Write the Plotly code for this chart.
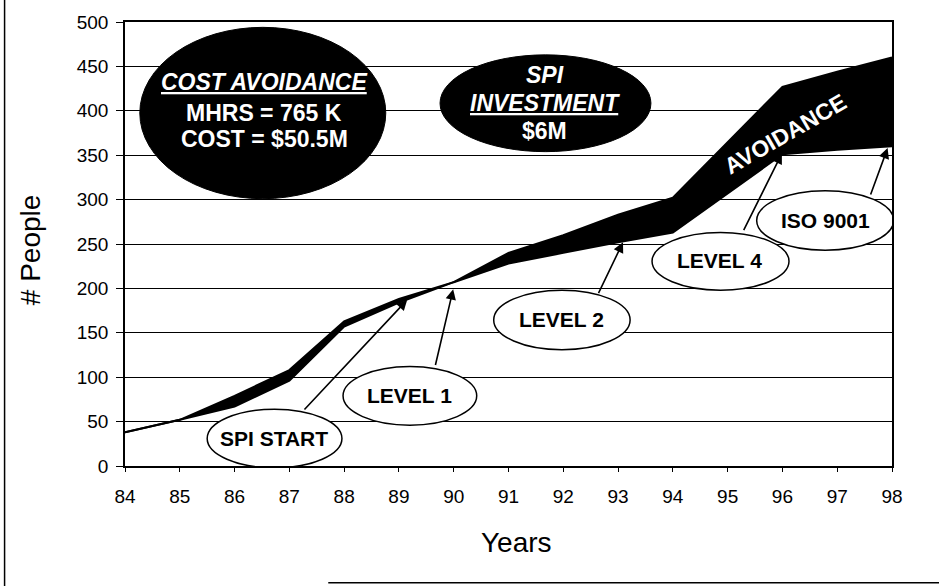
import plotly.graph_objects as go

# Years (two-digit) and head-count curves
years = [84, 85, 86, 87, 88, 89, 90, 91, 92, 93, 94, 95, 96, 97, 98]
without_spi = [38, 52, 79, 108, 163, 188, 207, 240, 260, 283, 302, 365, 427, 444, 460]
with_spi = [38, 52, 67, 96, 157, 184, 207, 228, 240, 252, 263, 307, 351, 356, 360]

y_ticks = [0, 50, 100, 150, 200, 250, 300, 350, 400, 450, 500]

# Milestone callouts: label, ellipse box, text centre, arrow tail -> head
milestones = [
    ("SPI START", (85.50, -2, 87.96, 64), (86.72, 31), (87.25, 62), (89.15, 187)),
    ("LEVEL 1", (87.98, 46, 90.42, 112), (89.20, 79), (89.66, 112), (89.99, 199)),
    ("LEVEL 2", (90.73, 131, 93.22, 198), (91.97, 165), (92.63, 193), (93.09, 252)),
    ("LEVEL 4", (93.62, 198, 96.12, 263), (94.86, 231), (95.28, 264), (95.99, 352)),
    ("ISO 9001", (95.53, 243, 98.03, 310), (96.79, 276), (97.60, 304), (97.92, 358)),
]

FONT = "Liberation Sans, Arial, sans-serif"

fig = go.Figure()

# Actual staffing (lower curve)
fig.add_trace(go.Scatter(
    x=years, y=with_spi, mode="lines",
    line=dict(color="black", width=2), showlegend=False, hoverinfo="skip",
))

# Projected staffing without SPI; the band between is the avoidance
fig.add_trace(go.Scatter(
    x=years, y=without_spi, mode="lines", fill="tonexty", fillcolor="black",
    line=dict(color="black", width=2), showlegend=False, hoverinfo="skip",
))

shapes = []
annotations = []

# Black summary ellipses
shapes.append(dict(type="circle", xref="x", yref="y", x0=84.27, x1=88.76, y0=301, y1=494,
                   fillcolor="black", line=dict(color="black", width=1), layer="above"))
shapes.append(dict(type="circle", xref="x", yref="y", x0=89.75, x1=93.60, y0=354, y1=463,
                   fillcolor="black", line=dict(color="black", width=1), layer="above"))

white_lines = [
    ("<b><i><u>COST AVOIDANCE</u></i></b>", 86.54, 433),
    ("<b>MHRS = 765 K</b>", 86.54, 398),
    ("<b>COST = $50.5M</b>", 86.54, 368),
    ("<b><i>SPI</i></b>", 91.66, 440),
    ("<b><i><u>INVESTMENT</u></i></b>", 91.66, 409),
    ("<b>$6M</b>", 91.66, 377),
]
for txt, xx, yy in white_lines:
    annotations.append(dict(x=xx, y=yy, xref="x", yref="y", text=txt, showarrow=False,
                            font=dict(family=FONT, size=23, color="white")))

annotations.append(dict(x=96.05, y=374, xref="x", yref="y", text="<b>AVOIDANCE</b>",
                        showarrow=False, textangle=-30,
                        font=dict(family=FONT, size=23, color="white")))

# Milestone ellipses with arrows
for label, (ex0, ey0, ex1, ey1), (tx, ty), (ax, ay), (hx, hy) in milestones:
    shapes.append(dict(type="circle", xref="x", yref="y", x0=ex0, x1=ex1, y0=ey0, y1=ey1,
                       fillcolor="white", line=dict(color="black", width=1.5), layer="above"))
    annotations.append(dict(x=hx, y=hy, ax=ax, ay=ay, xref="x", yref="y", axref="x", ayref="y",
                            text="", showarrow=True, arrowhead=2, arrowsize=1.3,
                            arrowwidth=1.6, arrowcolor="black"))
    annotations.append(dict(x=tx, y=ty, xref="x", yref="y", text=f"<b>{label}</b>",
                            showarrow=False, font=dict(family=FONT, size=21, color="black")))

# Page frame (left edge and bottom rule of the scanned slide)
shapes.append(dict(type="line", xref="paper", yref="paper", x0=-0.157, x1=-0.157, y0=-0.27, y1=1.05,
                   line=dict(color="black", width=1.5)))
shapes.append(dict(type="line", xref="paper", yref="paper", x0=0.265, x1=1.07, y0=-0.263, y1=-0.263,
                   line=dict(color="black", width=1.5)))

# Axis titles
annotations.append(dict(x=-0.124, y=0.488, xref="paper", yref="paper", text="# People",
                        xanchor="center", yanchor="middle", textangle=-90, showarrow=False,
                        font=dict(family=FONT, size=28, color="black")))
annotations.append(dict(x=0.511, y=-0.1715, xref="paper", yref="paper", text="Years",
                        xanchor="center", yanchor="middle", showarrow=False,
                        font=dict(family=FONT, size=28, color="black")))

fig.update_layout(
    width=939, height=587,
    margin=dict(l=125, r=47, t=17, b=121),
    paper_bgcolor="white", plot_bgcolor="white",
    font=dict(family=FONT, size=19, color="black"),
    shapes=shapes, annotations=annotations,
    showlegend=False,
)

fig.update_xaxes(
    range=[84, 98], tickvals=years, ticktext=[str(y) for y in years],
    showgrid=False, zeroline=False, showline=True, linecolor="black", linewidth=1.5,
    mirror=True, ticks="outside", ticklen=4, tickcolor="black", ticklabelstandoff=8,
    tickfont=dict(family=FONT, size=19), fixedrange=True,
)
fig.update_yaxes(
    range=[0, 500], tickvals=y_ticks, ticktext=[str(v) for v in y_ticks],
    showgrid=True, gridcolor="black", gridwidth=1, zeroline=False,
    showline=True, linecolor="black", linewidth=1.5, mirror=True,
    ticks="outside", ticklen=7, tickcolor="black", ticklabelstandoff=4,
    tickfont=dict(family=FONT, size=19), fixedrange=True,
)

# page body margin would shift the figure 8px; drop it so the layout lines up
fig.write_html("out.html", config={"displayModeBar": False},
               post_script="document.body.style.margin='0';")
